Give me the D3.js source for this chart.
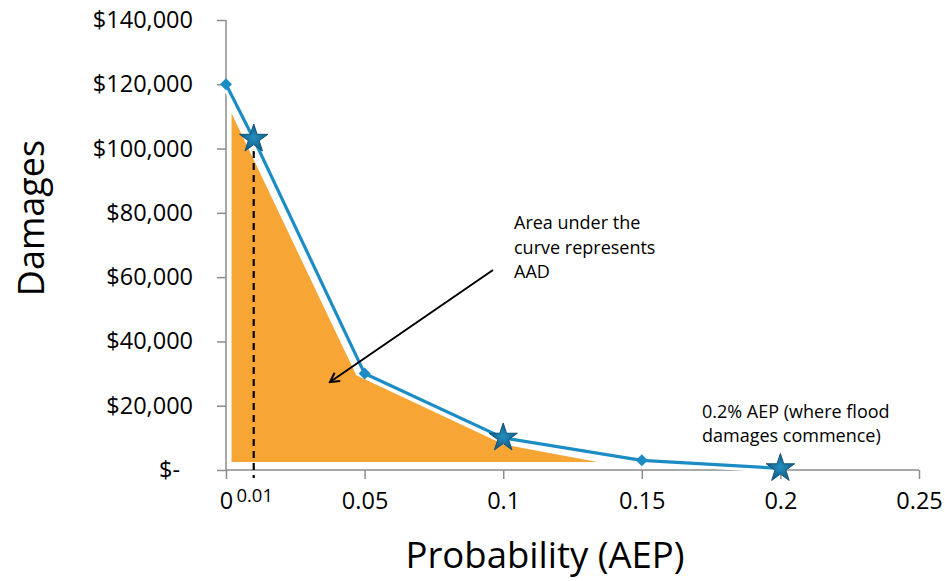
<!DOCTYPE html>
<html><head><meta charset="utf-8">
<script src="https://cdn.jsdelivr.net/npm/d3@7/dist/d3.min.js"></script>
<style>
body{margin:0;background:#fff;}
text{font-family:"Open Sans",sans-serif;fill:#000;}
</style></head>
<body><svg id="c" width="945" height="581"></svg>
<script>
// Data
const aep = [0, 0.01, 0.05, 0.1, 0.15, 0.2];
const damages = [120000, 103000, 30000, 10000, 3000, 500];
const starAep = [0.01, 0.1, 0.2];
const diamondAep = [0, 0.05, 0.15];
const areaX = [0.002, 0.047, 0.1, 0.134, 0.002];
const areaY = [111000, 29500, 8000, 2500, 2500];
const xTicks = [0, 0.05, 0.1, 0.15, 0.2, 0.25];
const yTicks = [0, 20000, 40000, 60000, 80000, 100000, 120000, 140000];
const markerAep = 0.01;

const svg = d3.select("#c");
const x = d3.scaleLinear().domain([0, 0.25]).range([226, 919]);
const y = d3.scaleLinear().domain([0, 140000]).range([470, 20]);
const axisCol = "#8c8c8c";

const fmtY = v => v === 0 ? "$-" : "$" + d3.format(",")(v);

// area
const areaPts = areaX.map((v, i) => [x(v), y(areaY[i])]);
svg.append("path").attr("d", d3.line()(areaPts) + "Z").attr("fill", "#f7a535");

// axes
const yAxis = svg.append("g").attr("transform", "translate(226,0)")
  .call(d3.axisLeft(y).tickValues(yTicks).tickSize(9).tickPadding(24).tickFormat(fmtY));
const xAxis = svg.append("g").attr("transform", "translate(0,470)")
  .call(d3.axisBottom(x).tickValues(xTicks).tickSize(9).tickPadding(13).tickFormat(d => d3.format("")(d)));
[yAxis, xAxis].forEach(g => {
  g.select(".domain").attr("stroke", axisCol).attr("stroke-width", 1.5);
  g.selectAll(".tick line").attr("stroke", axisCol).attr("stroke-width", 1.5);
  g.selectAll("text").attr("font-size", 23.5).attr("font-family", "Open Sans").attr("fill", "#000");
});
yAxis.select(".domain").attr("d", "M0,20V470");
xAxis.select(".domain").attr("d", "M226,0H919");
yAxis.selectAll(".tick text").filter(d => d === 0).attr("dx", -13);

// dashed marker
svg.append("line").attr("x1", x(markerAep)).attr("x2", x(markerAep))
  .attr("y1", y(damages[1])).attr("y2", 478)
  .attr("stroke", "#000").attr("stroke-width", 2.2).attr("stroke-dasharray", "7,5");
svg.append("text").attr("x", x(markerAep) + 1).attr("y", 502).attr("text-anchor", "middle")
  .attr("font-size", 18.5).text("0.01");

// line
const pts = aep.map((v, i) => [x(v), y(damages[i])]);
svg.append("path").attr("d", d3.line()(pts)).attr("fill", "none")
  .attr("stroke", "#fff").attr("stroke-width", 9).attr("stroke-linejoin", "round");
svg.append("path").attr("d", d3.line()(pts)).attr("fill", "none")
  .attr("stroke", "#1c8cc4").attr("stroke-width", 3.2).attr("stroke-linejoin", "round");

const lookup = v => damages[aep.indexOf(v)];
svg.selectAll(".dia").data(diamondAep).join("path")
  .attr("transform", d => `translate(${x(d)},${y(lookup(d))}) rotate(45)`)
  .attr("d", d3.symbol(d3.symbolSquare, 72)())
  .attr("fill", "#1c8cc4");

const defs = svg.append("defs");
const grad = defs.append("radialGradient").attr("id", "sg");
grad.append("stop").attr("offset", "0%").attr("stop-color", "#238fbf");
grad.append("stop").attr("offset", "100%").attr("stop-color", "#135a82");
svg.selectAll(".star").data(starAep).join("path")
  .attr("transform", d => `translate(${x(d)},${y(lookup(d))})`)
  .attr("d", d3.symbol(d3.symbolStar, 250)())
  .attr("fill", "url(#sg)").attr("stroke", "#0f5478").attr("stroke-width", 1);

// arrow
defs.append("marker").attr("id", "ah").attr("viewBox", "0 0 12 12").attr("refX", 10).attr("refY", 6)
  .attr("markerWidth", 12).attr("markerHeight", 12).attr("markerUnits", "userSpaceOnUse").attr("orient", "auto")
  .append("path").attr("d", "M1,1 L10,6 L1,11").attr("fill", "none").attr("stroke", "#000").attr("stroke-width", 2);
svg.append("line").attr("x1", 493).attr("y1", 270).attr("x2", 330).attr("y2", 382)
  .attr("stroke", "#000").attr("stroke-width", 2).attr("marker-end", "url(#ah)");

// annotations
const ann1 = ["Area under the", "curve represents", "AAD"];
svg.append("g").selectAll("text").data(ann1).join("text")
  .attr("x", 514).attr("y", (d, i) => 229 + i * 24.5).attr("font-size", 18).text(d => d);
const ann2 = ["0.2% AEP (where flood", "damages commence)"];
svg.append("g").selectAll("text").data(ann2).join("text")
  .attr("x", 702).attr("y", (d, i) => 418 + i * 24).attr("font-size", 18).text(d => d);

// titles
svg.append("text").attr("x", 545).attr("y", 568).attr("text-anchor", "middle")
  .attr("font-size", 36.5).text("Probability (AEP)");
svg.append("text").attr("transform", "translate(44,218) rotate(-90)").attr("text-anchor", "middle")
  .attr("font-size", 36).text("Damages");
</script></body></html>
